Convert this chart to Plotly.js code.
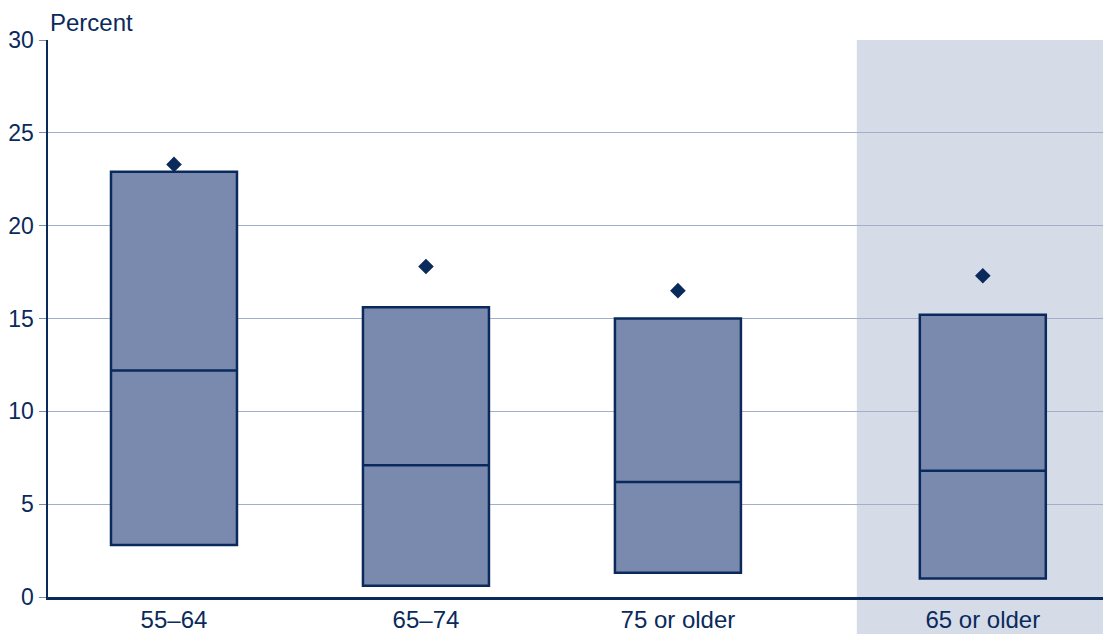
<!DOCTYPE html>
<html>
<head>
<meta charset="utf-8">
<script src="https://cdn.plot.ly/plotly-3.0.1.min.js"></script>
<style>html,body{margin:0;padding:0;background:#fff;}#chart{width:1103px;height:634px;}</style>
</head>
<body>
<div id="chart"></div>
<script>
const categories = ['55–64', '65–74', '75 or older', '65 or older'];
const positions = [0, 1, 2, 3.21];
const q1Values = [2.8, 0.6, 1.3, 1.0];
const medianValues = [12.2, 7.1, 6.2, 6.8];
const q3Values = [22.9, 15.6, 15.0, 15.2];
const meanValues = [23.3, 17.8, 16.5, 17.3];
const yTicks = [0, 5, 10, 15, 20, 25, 30];

const navy = '#0a2a5c';

const boxTrace = {
  type: 'box',
  x: positions,
  q1: q1Values,
  median: medianValues,
  q3: q3Values,
  lowerfence: q1Values,
  upperfence: q3Values,
  width: 0.5,
  fillcolor: '#7a8aae',
  line: {color: navy, width: 2.5},
  whiskerwidth: 0,
  boxpoints: false,
  hoverinfo: 'skip',
  showlegend: false
};

const meanTrace = {
  type: 'scatter',
  mode: 'markers',
  x: positions,
  y: meanValues,
  marker: {symbol: 'diamond', size: 12, color: navy},
  hoverinfo: 'skip',
  showlegend: false
};

const layout = {
  width: 1103,
  height: 634,
  margin: {l: 48, r: 0, t: 40, b: 37},
  paper_bgcolor: '#ffffff',
  plot_bgcolor: 'rgba(0,0,0,0)',
  font: {family: 'Liberation Sans, Arial, sans-serif', size: 22, color: navy},
  xaxis: {
    range: [-0.5, 3.687],
    tickvals: positions,
    ticktext: categories,
    showgrid: false,
    zeroline: false,
    showline: true,
    linecolor: navy,
    linewidth: 2.5,
    ticks: '',
    tickfont: {size: 24, color: navy},
    fixedrange: true
  },
  yaxis: {
    range: [0, 30],
    tickvals: yTicks,
    showgrid: true,
    gridcolor: '#a3aec9',
    gridwidth: 1,
    zeroline: false,
    showline: true,
    linecolor: navy,
    linewidth: 2.5,
    ticks: 'outside',
    ticklen: 7,
    tickcolor: '#7b88a8',
    tickwidth: 1,
    tickfont: {size: 23, color: navy},
    fixedrange: true
  },
  shapes: [{
    type: 'rect',
    xref: 'x',
    yref: 'paper',
    x0: 2.71,
    x1: 4,
    y0: -0.2,
    y1: 1,
    fillcolor: '#d5dbe7',
    line: {width: 0},
    layer: 'below'
  }],
  annotations: [{
    xref: 'paper', yref: 'paper',
    x: 0, y: 1,
    xanchor: 'left', yanchor: 'bottom',
    xshift: 0, yshift: 2,
    text: 'Percent',
    showarrow: false,
    font: {size: 24, color: navy}
  }]
};

Plotly.newPlot('chart', [boxTrace, meanTrace], layout, {displayModeBar: false, staticPlot: true});
</script>
</body>
</html>
